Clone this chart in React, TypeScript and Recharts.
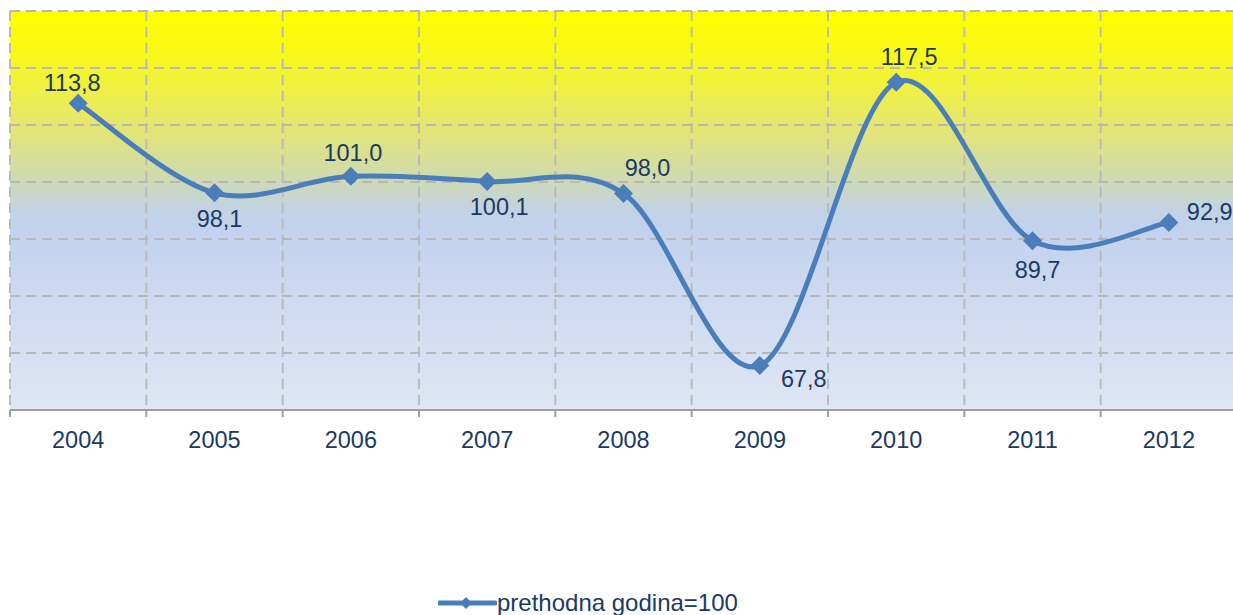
import { CartesianGrid, LabelList, Legend, Line, LineChart, XAxis, YAxis } from "recharts"

const years = ["2004", "2005", "2006", "2007", "2008", "2009", "2010", "2011", "2012"]
const indexValues = [113.8, 98.1, 101.0, 100.1, 98.0, 67.8, 117.5, 89.7, 92.9]
const yTicks = [60, 70, 80, 90, 100, 110, 120, 130]
const seriesName = "prethodna godina=100"

const data = years.map((year, i) => ({ year, value: indexValues[i] }))

// label placement per point: dx, dy, anchor
const labelOffsets: [number, number, string][] = [
  [-6, -20, "middle"],
  [5, 26, "middle"],
  [2, -23, "middle"],
  [12, 26, "middle"],
  [24, -25, "middle"],
  [44, 13, "middle"],
  [13, -25, "middle"],
  [5, 29, "middle"],
  [18, -10, "start"],
]

const BLUE = "#4a7ebb"
const TEXT = "#1b3a63"
const AXIS = "#a0a0a0"
const FONT = "'Liberation Sans', Arial, sans-serif"
const TICK_GAP = 21

const fmt = (v: number) => v.toFixed(1).replace(".", ",")

// Excel-like smoothing (Catmull-Rom as cubic bezier)
function excelSmooth(context: any) {
  let pts: [number, number][] = []
  return {
    areaStart() {},
    areaEnd() {},
    lineStart() {
      pts = []
    },
    point(x: number, y: number) {
      pts.push([+x, +y])
    },
    lineEnd() {
      if (!pts.length) return
      context.moveTo(pts[0][0], pts[0][1])
      for (let i = 0; i < pts.length - 1; i++) {
        const p0 = pts[i - 1] || pts[i]
        const p1 = pts[i]
        const p2 = pts[i + 1]
        const p3 = pts[i + 2] || p2
        context.bezierCurveTo(
          p1[0] + (p2[0] - p0[0]) / 6,
          p1[1] + (p2[1] - p0[1]) / 6,
          p2[0] - (p3[0] - p1[0]) / 6,
          p2[1] - (p3[1] - p1[1]) / 6,
          p2[0],
          p2[1]
        )
      }
    },
  }
}

function Diamond(props: any) {
  const { cx, cy, index } = props
  const r = 9.5
  return (
    <polygon
      key={`dot-${index}`}
      points={`${cx},${cy - r} ${cx + r},${cy} ${cx},${cy + r} ${cx - r},${cy}`}
      fill={BLUE}
    />
  )
}

function renderLabel(props: any) {
  const { x, y, value, index } = props
  const [dx, dy, anchor] = labelOffsets[index]
  return (
    <text
      key={`lbl-${index}`}
      x={x + dx}
      y={y + dy}
      textAnchor={anchor as any}
      dominantBaseline="central"
      fill={TEXT}
      fontSize={23.5}
      fontFamily={FONT}
    >
      {fmt(Number(value))}
    </text>
  )
}

// category label plus tick marks on the band boundaries
function YearTick(props: any) {
  const { x, y, width, visibleTicksCount, index, payload } = props
  const half = width / (visibleTicksCount || years.length) / 2
  const top = y - TICK_GAP
  const edges = index === years.length - 1 ? [x - half, x + half] : [x - half]
  return (
    <g>
      {edges.map((ex) => (
        <line key={ex} x1={ex} x2={ex} y1={top} y2={top + 7} stroke={AXIS} strokeWidth={2} />
      ))}
      <text
        x={x}
        y={y}
        dy="0.71em"
        textAnchor="middle"
        fill={TEXT}
        fontSize={23.5}
        fontFamily={FONT}
      >
        {payload.value}
      </text>
    </g>
  )
}

function LegendContent() {
  return (
    <div style={{ position: "relative", height: 24 }}>
      <div
        style={{
          position: "absolute",
          left: 428,
          top: 0,
          display: "flex",
          alignItems: "center",
          height: 24,
        }}
      >
        <svg width={59} height={24}>
          <line x1={1} y1={12} x2={57} y2={12} stroke={BLUE} strokeWidth={5} strokeLinecap="round" />
          <polygon points="28,6 34,12 28,18 22,12" fill={BLUE} />
        </svg>
        <span style={{ color: TEXT, fontSize: 24, fontFamily: FONT, lineHeight: "24px" }}>
          {seriesName}
        </span>
      </div>
    </div>
  )
}

export default function App() {
  return (
    <div
      style={{
        position: "absolute",
        left: 0,
        top: 0,
        width: 1233,
        height: 615,
        overflow: "hidden",
      }}
    >
      <div style={{ position: "absolute", left: 8, top: 8 }}>
        <LineChart
          width={1232}
          height={607}
          data={data}
          margin={{ top: 3, right: 3, bottom: 0, left: 2 }}
        >
          <defs>
            <linearGradient id="plotBg" x1="0" y1="0" x2="0" y2="1">
              <stop offset="0%" stopColor="#ffff00" />
              <stop offset="10%" stopColor="#f9f916" />
              <stop offset="28%" stopColor="#e6e76c" />
              <stop offset="42%" stopColor="#cfdab0" />
              <stop offset="50%" stopColor="#c2d2e6" />
              <stop offset="55%" stopColor="#c2d2ee" />
              <stop offset="100%" stopColor="#dfe6f4" />
            </linearGradient>
          </defs>
          <XAxis
            dataKey="year"
            scale="band"
            axisLine={{ stroke: AXIS, strokeWidth: 2 }}
            tickLine={false}
            tickSize={0}
            tickMargin={TICK_GAP}
            height={181}
            interval={0}
            tick={<YearTick />}
          />
          <YAxis hide domain={[60, 130]} ticks={yTicks} />
          <CartesianGrid
            stroke="#b8b8b8"
            strokeWidth={1.8}
            strokeDasharray="10 6"
            fill="url(#plotBg)"
            fillOpacity={1}
            verticalCoordinatesGenerator={({ offset }: any) =>
              Array.from({ length: years.length + 1 }, (_, i) => offset.left + (i * offset.width) / years.length)
            }
          />
          <Legend verticalAlign="bottom" content={() => <LegendContent />} />
          <Line
            dataKey="value"
            name={seriesName}
            type={excelSmooth as any}
            stroke={BLUE}
            strokeWidth={5}
            dot={(p: any) => <Diamond {...p} />}
            activeDot={false}
            isAnimationActive={false}
          >
            <LabelList dataKey="value" content={renderLabel} />
          </Line>
        </LineChart>
      </div>
    </div>
  )
}
